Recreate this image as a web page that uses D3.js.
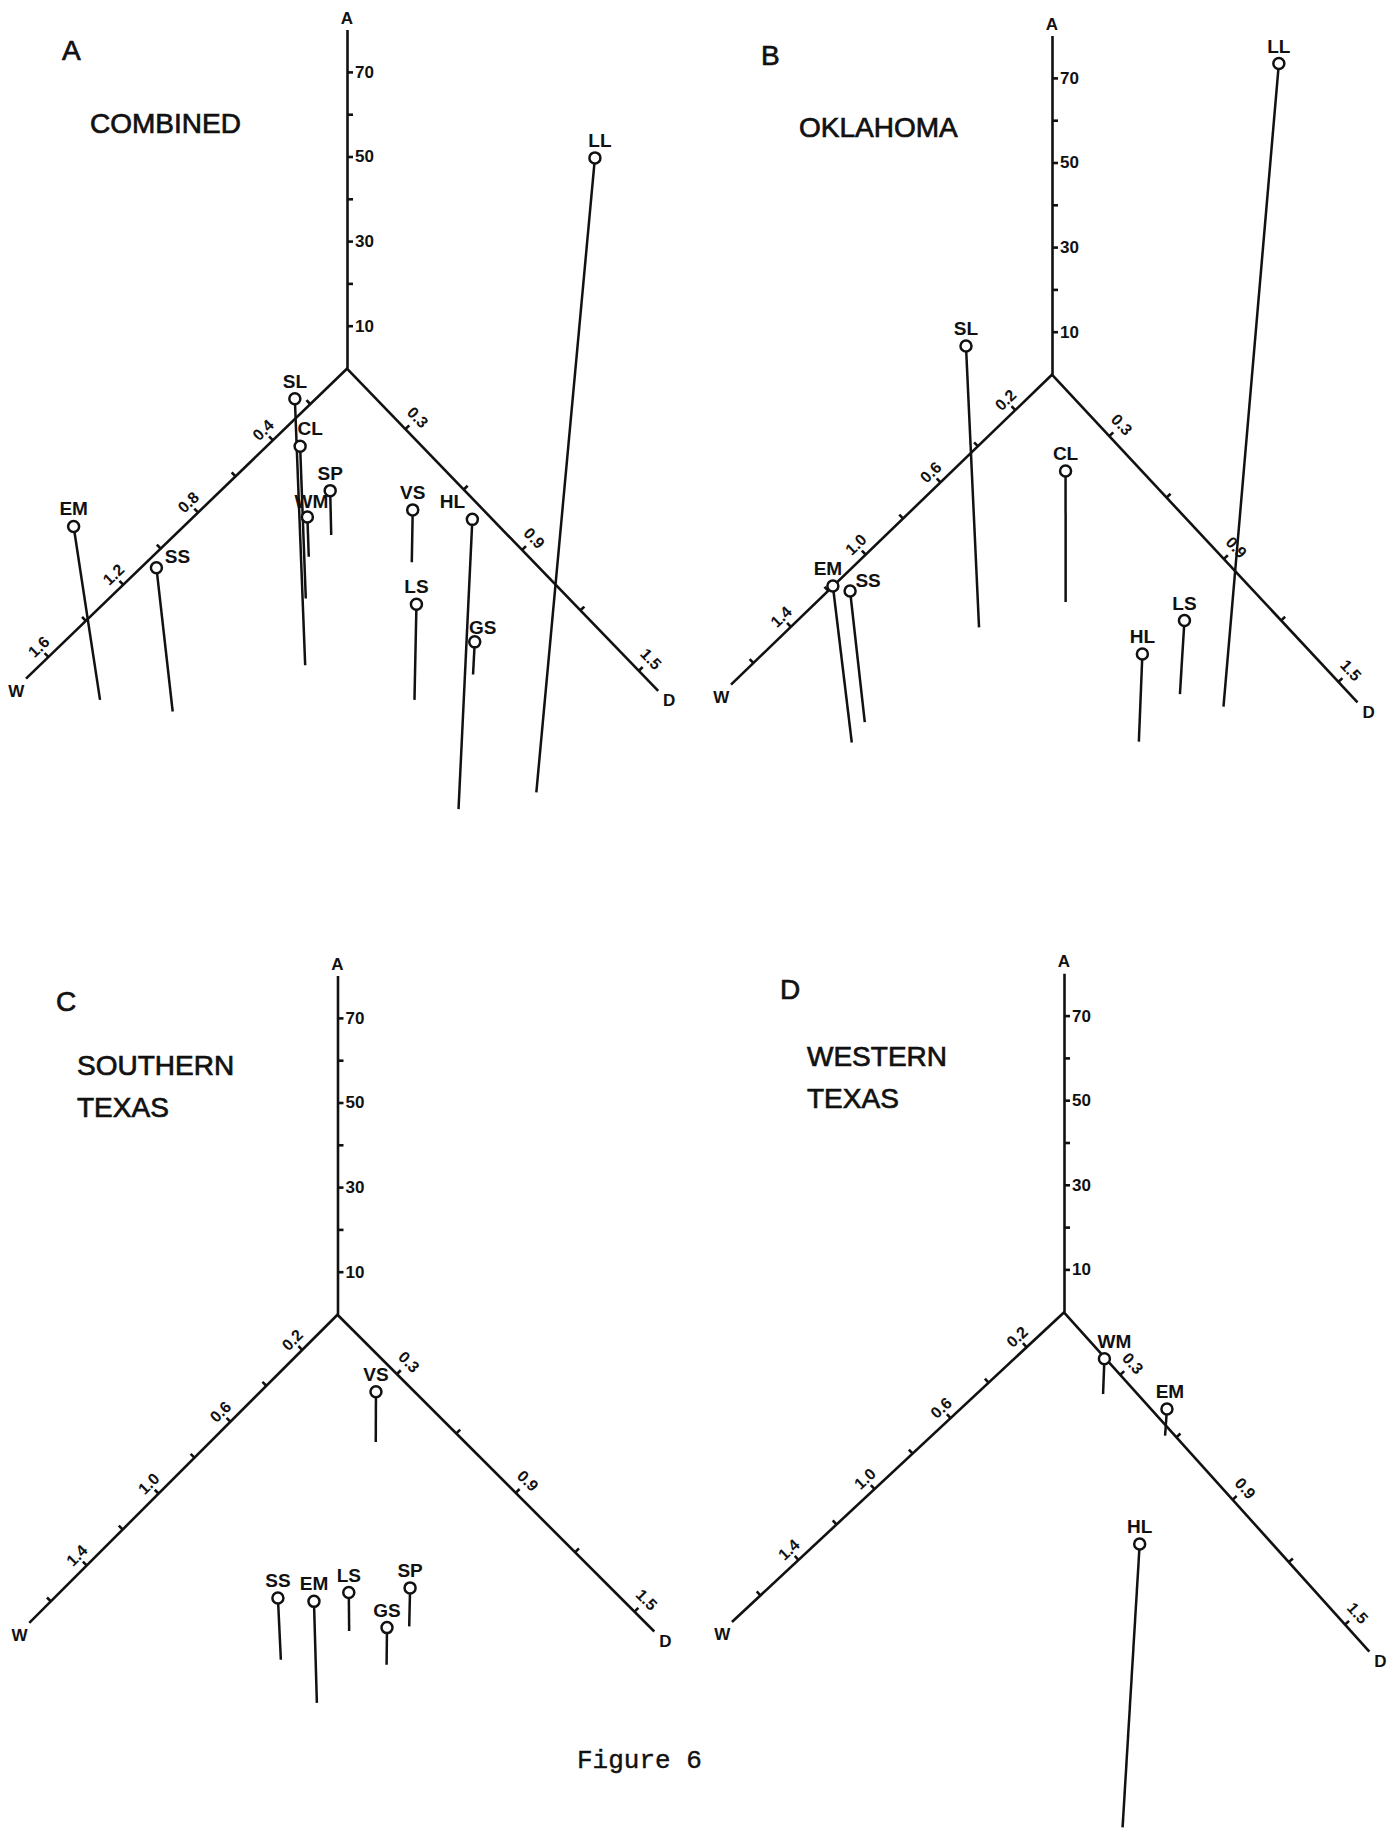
<!DOCTYPE html>
<html>
<head>
<meta charset="utf-8">
<script src="https://cdn.jsdelivr.net/npm/d3@7"></script>
<style>
  body { margin: 0; background: #fff; }
  text { font-family: "Liberation Sans", Arial, sans-serif; fill: #111; }
  .tick text { font-size: 16px; font-weight: bold; }
  .a-axis .tick text { font-size: 17px; }
  .site-label { font-size: 19px; font-weight: bold; text-anchor: middle; }
  .end-label { font-size: 17px; font-weight: bold; text-anchor: middle; }
  .title { font-size: 28px; stroke: #111; stroke-width: 0.7; }
  .caption { font-family: "Liberation Mono", "Courier New", monospace; font-size: 26px; stroke: #111; stroke-width: 0.4; }
</style>
</head>
<body>
<svg id="fig" width="1396" height="1831"></svg>
<script>
const svg = d3.select("#fig");

// values: W and D locate the foot of each stem,
// A is the height of the circle above that foot
const panelLetters = ["A", "B", "C", "D"];
const panelTitles = [["COMBINED"], ["OKLAHOMA"], ["SOUTHERN", "TEXAS"], ["WESTERN", "TEXAS"]];

const sitesA = ["SL", "CL", "WM", "SP", "VS", "LS", "HL", "GS", "LL", "EM", "SS"];
const wA = [0.91, 0.73, 0.61, 0.49, 0.34, 0.70, 0.87, 0.47, 0.61, 1.57, 1.40];
const dA = [0.66, 0.49, 0.39, 0.39, 0.66, 1.02, 1.41, 1.10, 1.56, 0.24, 0.45];
const aA = [63, 36, 9.4, 10.5, 12.4, 22.6, 68.5, 7.7, 150, 41, 34];

const sitesB = ["LL", "SL", "CL", "EM", "SS", "HL", "LS"];
const wB = [0.39, 0.87, 0.56, 1.53, 1.44, 0.72, 0.48];
const dB = [1.28, 0.47, 0.62, 0.45, 0.43, 1.16, 1.14];
const aB = [152, 66.5, 31, 37, 31, 20.7, 17.4];

const sitesC = ["VS", "SS", "EM", "LS", "GS", "SP"];
const wC = [0.25, 1.12, 1.14, 0.85, 0.84, 0.67];
const dC = [0.42, 0.73, 0.93, 0.83, 1.01, 0.97];
const aC = [11.9, 14.6, 24, 9.1, 8.8, 9.1];

const sitesD = ["WM", "EM", "HL"];
const wD = [0.10, 0.03, 1.16];
const dD = [0.31, 0.57, 1.49];
const aD = [8.3, 6.3, 67];

const wTicks = [0.2, 0.4, 0.6, 0.8, 1.0, 1.2, 1.4, 1.6];
const wLabelsA = [0.4, 0.8, 1.2, 1.6];
const wLabelsOther = [0.2, 0.6, 1.0, 1.4];
const dTicks = [0.3, 0.6, 0.9, 1.2, 1.5];
const dLabels = [0.3, 0.9, 1.5];
const aTicks = [10, 20, 30, 40, 50, 60, 70];
const aLabels = [10, 30, 50, 70];

// layout of each panel (pixels / degrees)
const pxD = 280, pxA = 4.23;
const layout = [
  {ox: 347, oy: 368, angW: 44, angD: 46, pxW: 260, wMax: 1.72, dMax: 1.60, aMax: 80, vx: 30, vy: 2150,
   lx: 62, ly: 60, tx: 90, ty: 133},
  {ox: 1052, oy: 374, angW: 44, angD: 47, pxW: 260, wMax: 1.72, dMax: 1.60, aMax: 80, vx: 15, vy: 2150,
   lx: 761, ly: 65, tx: 799, ty: 137},
  {ox: 337.5, oy: 1314, angW: 45, angD: 45, pxW: 254, wMax: 1.72, dMax: 1.60, aMax: 80, vx: 30, vy: 2150,
   lx: 56, ly: 1011, tx: 77, ty: 1075},
  {ox: 1064, oy: 1311.7, angW: 43, angD: 48, pxW: 260, wMax: 1.75, dMax: 1.63, aMax: 80, vx: -40, vy: 2150,
   lx: 780, ly: 999, tx: 807, ty: 1066}
];
const labelShift = {
  "A-HL": [-20, 0], "A-SS": [21, 6], "A-CL": [10, 0], "A-GS": [8, 3], "A-WM": [4, 2], "A-LL": [5, 0],
  "B-EM": [-5, 0], "B-SS": [18, 7], "D-WM": [10, 0], "D-EM": [3, 0]
};

const panels = [
  {sites: sitesA, w: wA, d: dA, a: aA, wLabels: wLabelsA},
  {sites: sitesB, w: wB, d: dB, a: aB, wLabels: wLabelsOther},
  {sites: sitesC, w: wC, d: dC, a: aC, wLabels: wLabelsOther},
  {sites: sitesD, w: wD, d: dD, a: aD, wLabels: wLabelsOther}
];

const dLen = d3.scaleLinear().domain([0, 1]).range([0, pxD]);
const aPos = d3.scaleLinear().domain([0, 1]).range([0, -pxA]);
const fmt = d3.format(".1f");
const rad = deg => deg * Math.PI / 180;

// foot of the stem on the W-D plane, circle lifted by A with a slight perspective lean
function project(p, wLen, w, d, a) {
  const bx = -wLen(w) * Math.cos(rad(p.angW)) + dLen(d) * Math.cos(rad(p.angD));
  const by = wLen(w) * Math.sin(rad(p.angW)) + dLen(d) * Math.sin(rad(p.angD));
  const h = -aPos(a);
  const k = h / (p.vy - by);
  return {bx: bx, by: by, x: bx + (bx - p.vx) * k, y: by - h};
}

function styleAxis(sel) {
  sel.attr("font-family", null).attr("font-size", null);
  sel.selectAll("path, line").attr("stroke", "#111").attr("stroke-width", 2.6);
}

panels.forEach((pd, i) => {
  const p = layout[i];
  const key = panelLetters[i];
  const wLen = d3.scaleLinear().domain([0, 1]).range([0, p.pxW]);

  svg.append("text").attr("class", "title")
    .attr("x", p.lx).attr("y", p.ly).text(key);

  panelTitles[i].forEach((t, j) => {
    svg.append("text").attr("class", "title")
      .attr("x", p.tx).attr("y", p.ty + j * 42).text(t);
  });

  // A axis
  const aScale = d3.scaleLinear().domain([0, p.aMax]).range([0, -p.aMax * pxA]);
  const aAxisG = svg.append("g").attr("class", "a-axis")
    .attr("transform", `translate(${p.ox},${p.oy})`)
    .call(d3.axisRight(aScale).tickValues(aTicks).tickSize(6).tickSizeOuter(0).tickPadding(2)
      .tickFormat(v => aLabels.includes(v) ? v : ""));
  styleAxis(aAxisG);

  // W axis, drawn in a frame turned so the axis points down-left
  const wScale = d3.scaleLinear().domain([0, p.wMax]).range([0, -p.wMax * p.pxW]);
  const wAxisG = svg.append("g")
    .attr("transform", `translate(${p.ox},${p.oy}) rotate(${-p.angW})`)
    .call(d3.axisTop(wScale).tickValues(wTicks).tickSize(5).tickSizeOuter(0).tickPadding(3)
      .tickFormat(v => pd.wLabels.includes(v) ? fmt(v) : ""));
  styleAxis(wAxisG);

  // D axis, pointing down-right
  const dScale = d3.scaleLinear().domain([0, p.dMax]).range([0, p.dMax * pxD]);
  const dAxisG = svg.append("g")
    .attr("transform", `translate(${p.ox},${p.oy}) rotate(${p.angD})`)
    .call(d3.axisTop(dScale).tickValues(dTicks).tickSize(5).tickSizeOuter(0).tickPadding(6)
      .tickFormat(v => dLabels.includes(v) ? fmt(v) : ""));
  styleAxis(dAxisG);

  // axis end letters
  const wEnd = [p.ox - wLen(p.wMax) * Math.cos(rad(p.angW)), p.oy + wLen(p.wMax) * Math.sin(rad(p.angW))];
  const dEnd = [p.ox + dLen(p.dMax) * Math.cos(rad(p.angD)), p.oy + dLen(p.dMax) * Math.sin(rad(p.angD))];
  svg.append("text").attr("class", "end-label")
    .attr("x", p.ox).attr("y", p.oy + aScale(p.aMax) - 6).text("A");
  svg.append("text").attr("class", "end-label")
    .attr("x", wEnd[0] - 9).attr("y", wEnd[1] + 18).text("W");
  svg.append("text").attr("class", "end-label")
    .attr("x", dEnd[0] + 11).attr("y", dEnd[1] + 16).text("D");

  // sites
  const pts = pd.sites.map((s, j) => Object.assign({name: s}, project(p, wLen, pd.w[j], pd.d[j], pd.a[j])));
  const g = svg.append("g").attr("transform", `translate(${p.ox},${p.oy})`);

  g.selectAll(".stem").data(pts).join("line")
    .attr("class", "stem")
    .attr("x1", d => d.x).attr("y1", d => d.y)
    .attr("x2", d => d.bx).attr("y2", d => d.by)
    .attr("stroke", "#111").attr("stroke-width", 2.5);

  g.selectAll(".dot").data(pts).join("circle")
    .attr("class", "dot")
    .attr("cx", d => d.x).attr("cy", d => d.y).attr("r", 5.5)
    .attr("fill", "#fff").attr("stroke", "#111").attr("stroke-width", 2.5);

  g.selectAll(".site-label").data(pts).join("text")
    .attr("class", "site-label")
    .attr("x", d => d.x + (labelShift[key + "-" + d.name] || [0, 0])[0])
    .attr("y", d => d.y - 11 + (labelShift[key + "-" + d.name] || [0, 0])[1])
    .text(d => d.name);
});

svg.append("text").attr("class", "caption")
  .attr("x", 577).attr("y", 1768).text("Figure 6");
</script>
</body>
</html>
